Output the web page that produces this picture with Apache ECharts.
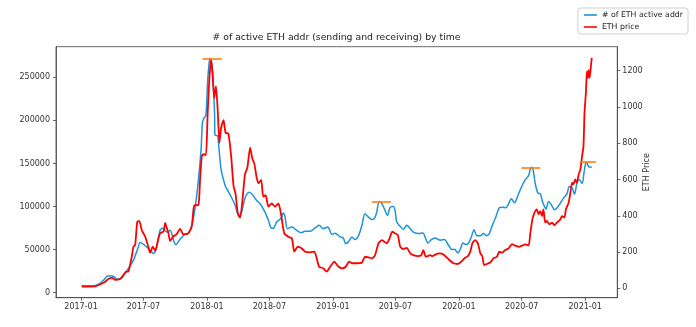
<!DOCTYPE html>
<html>
<head>
<meta charset="utf-8">
<script src="https://cdn.jsdelivr.net/npm/echarts@6/dist/echarts.min.js"></script>
<style>
html,body{margin:0;padding:0;background:#fff;}
#chart{width:696px;height:327px;}
</style>
</head>
<body>
<div id="chart"></div>
<script>
// ---- data ----
const startDate = '2017-01-01';   // day 0 of the day-offset arrays below

const addrDays = [
  2,41,55,70,76,89,97,103,116,128,
  137,152,166,171,190,205,210,219,229,237,
  248,258,268,275,287,301,311,321,331,340,
  348,352,357,362,367,372,375,380,384,387,
  388,396,398,406,413,419,427,437,446,458,
  466,475,487,497,509,519,533,543,551,557,
  567,580,586,591,598,611,625,638,649,664,
  678,690,702,715,727,736,751,760,767,775,
  785,794,804,814,823,833,843,850,857,864,
  872,879,888,896,905,910,915,925,934,944,
  954,963,978,991,997,1005,1015,1026,1041,1053,
  1065,1075,1082,1092,1099,1107,1115,1123,1131,1139,
  1147,1157,1166,1176,1183,1192,1202,1212,1221,1231,
  1239,1247,1256,1266,1276,1287,1297,1302,1307,1311,
  1316,1324,1331,1337,1343,1347,1355,1363,1372,1379,
  1389,1398,1408,1415,1423,1430,1437,1444,1452,1458,
  1464,1471,1476,1480
];
const addrValues = [
  8000,8500,10800,16600,19300,19300,18500,15800,16600,22400,
  28200,37800,53100,58200,53100,47300,45500,52400,72400,74900,
  70400,72400,60900,55600,62000,68000,69000,78000,100000,130000,
  167000,198000,203000,206000,246000,269000,272000,262000,235000,208000,
  183000,182000,175000,142500,131000,123000,117400,109700,102000,88600,
  94300,109700,116600,113600,107000,103200,93500,84000,75100,74700,
  82000,86600,92400,88500,74300,76200,72400,69700,71300,71300,
  75100,78200,74300,76200,67800,69000,64700,63500,57000,59000,
  64700,61600,66200,78200,91700,87800,85100,85900,93500,106200,
  103200,97400,89700,99300,100100,95500,82000,77000,73600,78200,
  74300,70400,68600,69400,64700,57700,61600,63500,61000,61600,
  55100,50100,50400,46200,50400,57700,55900,57700,64700,73200,
  66200,66200,68600,66200,68600,78200,87800,98600,99300,98600,
  103200,109000,104400,112800,122400,130900,135900,143600,145500,140500,
  127000,115500,114700,105900,100100,97000,105900,102000,96300,98200,
  103900,109700,114700,123200,121600,114300,127000,131000,127000,140500,
  152100,146300,145500,146300
];

const priceDays = [
  2,41,50,70,79,91,99,113,123,130,
  137,142,147,152,157,163,169,176,186,195,
  200,208,215,221,229,239,244,248,253,258,
  268,277,287,297,311,321,328,340,345,350,
  355,362,367,372,377,381,386,391,396,401,
  406,413,419,427,435,442,448,454,461,468,
  475,482,490,497,502,509,514,522,528,535,
  543,553,562,572,580,589,601,611,618,628,
  640,649,664,676,683,690,702,712,722,734,
  744,756,767,777,785,799,814,823,833,843,
  852,862,872,879,886,894,902,910,918,925,
  934,944,954,963,976,986,992,999,1012,1018,
  1028,1038,1050,1065,1079,1092,1102,1111,1121,1128,
  1134,1142,1150,1157,1163,1168,1176,1186,1195,1205,
  1212,1220,1229,1239,1249,1258,1268,1278,1287,1297,
  1302,1308,1314,1321,1326,1331,1336,1340,1345,1350,
  1357,1365,1372,1379,1389,1394,1401,1405,1413,1418,
  1423,1427,1432,1437,1442,1447,1452,1456,1459,1463,
  1466,1469,1471,1474,1478,1480
];
const priceValues = [
  9,11,17,36,51,57,46,51,73,92,
  92,128,174,229,240,367,370,321,284,229,
  196,229,207,248,303,314,360,336,306,261,
  287,297,328,297,303,343,457,459,600,729,
  739,735,968,1160,1262,1188,1050,1115,986,802,
  885,927,857,853,729,564,518,417,389,490,
  628,665,775,711,689,610,579,597,505,514,
  450,468,450,468,404,303,284,275,202,229,
  220,202,198,202,165,119,110,92,119,147,
  123,110,119,147,138,138,142,174,171,165,
  183,248,266,257,248,275,312,303,294,229,
  216,223,193,183,177,183,211,174,183,177,
  187,193,187,160,138,134,147,165,177,202,
  248,266,248,193,177,128,134,142,165,174,
  202,196,211,220,244,235,229,235,242,237,
  306,380,417,435,408,426,398,435,362,371,
  353,362,347,362,380,398,390,435,472,527,
  582,573,600,582,628,656,729,784,968,1078,
  1197,1160,1203,1160,1234,1270
];

// orange peak markers (start day, end day, level on the address axis)
const peakStartDays = [352, 843, 1276, 1445];
const peakEndDays   = [408, 898, 1331, 1492];
const peakLevels    = [271800, 105900, 145500, 152100];

const xTickLabels = ['2017-01','2017-07','2018-01','2018-07','2019-01','2019-07','2020-01','2020-07','2021-01'];
const addrTicks = [0, 50000, 100000, 150000, 200000, 250000];
const priceTicks = [0, 200, 400, 600, 800, 1000, 1200];

// ---- build ----
const DAY = 86400000;
const t0 = Date.parse(startDate + 'T00:00:00Z');
const toTime = d => t0 + d * DAY;
const monthTime = s => Date.UTC(+s.slice(0, 4), +s.slice(5, 7) - 1, 1);
const xTickTimes = xTickLabels.map(monthTime);

const addrData = addrDays.map((d, i) => [toTime(d), addrValues[i]]);
const priceData = priceDays.map((d, i) => [toTime(d), priceValues[i]]);
const peakLines = peakLevels.map((v, i) => [
  { coord: [toTime(peakStartDays[i]), v] },
  { coord: [toTime(peakEndDays[i]), v] }
]);

const FONT = 'DejaVu Sans';
const TXT = '#333';
const AX = '#444';
const TICK_FS = 8;

const chart = echarts.init(document.getElementById('chart'), null, { renderer: 'canvas' });
chart.setOption({
  animation: false,
  backgroundColor: '#fff',
  textStyle: { fontFamily: FONT },
  title: {
    text: '# of active ETH addr (sending and receiving) by time',
    left: 336.5, top: 33, padding: 0,
    textAlign: 'center',
    textStyle: { fontFamily: FONT, fontSize: 9.3, fontWeight: 'normal', color: '#222' }
  },
  legend: {
    orient: 'vertical',
    right: 8, top: 8,
    padding: [2, 5, 2, 6],
    itemGap: 2,
    itemWidth: 13, itemHeight: 1.6,
    icon: 'rect',
    borderColor: '#d0d0d0', borderWidth: 1, borderRadius: 3,
    backgroundColor: 'rgba(255,255,255,0.8)',
    textStyle: { fontFamily: FONT, fontSize: 7.8, color: '#222', lineHeight: 10 },
    data: ['# of ETH active addr', 'ETH price']
  },
  grid: {
    left: 56, right: 78.7, top: 46.7, bottom: 29.3,
    show: true, borderColor: AX, borderWidth: 0.8, backgroundColor: 'transparent',
    containLabel: false
  },
  xAxis: {
    type: 'value',
    min: toTime(-72.5), max: toTime(1554),
    axisLine: { show: true, onZero: false, lineStyle: { color: AX, width: 0.8 } },
    axisTick: { show: true, length: 3, lineStyle: { color: AX, width: 0.8 }, customValues: xTickTimes },
    axisLabel: {
      customValues: xTickTimes,
      margin: 5,
      fontFamily: FONT, fontSize: TICK_FS, color: TXT,
      formatter: v => { const i = xTickTimes.indexOf(v); return i >= 0 ? xTickLabels[i] : ''; }
    },
    splitLine: { show: false }
  },
  yAxis: [
    {
      type: 'value', position: 'left',
      min: -5800, max: 285500,
      axisLine: { show: true, onZero: false, lineStyle: { color: AX, width: 0.8 } },
      axisTick: { show: true, length: 3, lineStyle: { color: AX, width: 0.8 }, customValues: addrTicks },
      axisLabel: { customValues: addrTicks, margin: 6, fontFamily: FONT, fontSize: TICK_FS, color: TXT,
                   formatter: v => String(v) },
      splitLine: { show: false }
    },
    {
      type: 'value', position: 'right',
      min: -51.8, max: 1332,
      name: 'ETH Price', nameLocation: 'middle', nameRotate: 90, nameGap: 26,
      nameMoveOverlap: false,
      nameTextStyle: { fontFamily: FONT, fontSize: TICK_FS, color: TXT },
      axisLine: { show: true, onZero: false, lineStyle: { color: AX, width: 0.8 } },
      axisTick: { show: true, length: 3, lineStyle: { color: AX, width: 0.8 }, customValues: priceTicks },
      axisLabel: { customValues: priceTicks, margin: 5, fontFamily: FONT, fontSize: TICK_FS, color: TXT,
                   formatter: v => String(v) },
      splitLine: { show: false }
    }
  ],
  series: [
    {
      name: '# of ETH active addr', type: 'line', yAxisIndex: 0,
      data: addrData, showSymbol: false, symbol: 'none', smooth: 0.3,
      itemStyle: { color: '#1f93d8' },
      lineStyle: { color: '#1f93d8', width: 1.5 },
      markLine: {
        silent: true, symbol: 'none', animation: false,
        label: { show: false },
        lineStyle: { color: '#ff7f0e', width: 1.6, type: 'solid' },
        emphasis: { disabled: true },
        data: peakLines
      },
      z: 2
    },
    {
      name: 'ETH price', type: 'line', yAxisIndex: 1,
      data: priceData, showSymbol: false, symbol: 'none', smooth: 0.2,
      itemStyle: { color: '#ff0000' },
      lineStyle: { color: '#ff0000', width: 1.8 },
      z: 3
    }
  ]
});
</script>
</body>
</html>
